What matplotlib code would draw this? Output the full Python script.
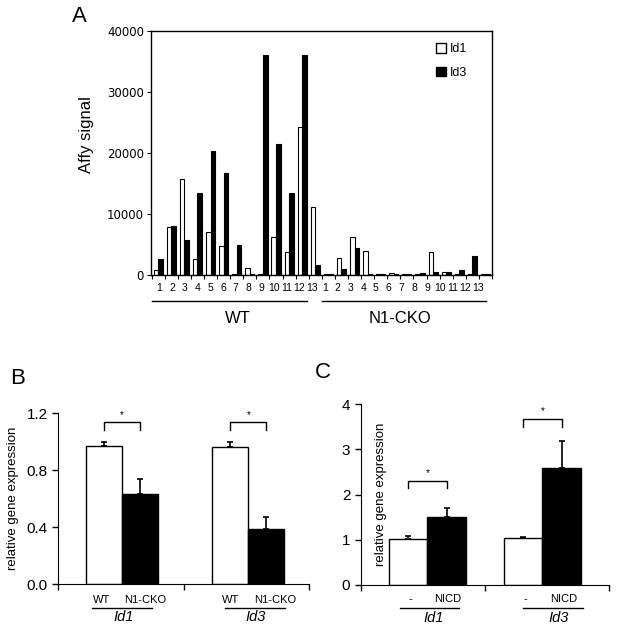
import numpy as np
import matplotlib
matplotlib.use('Agg')
import matplotlib.pyplot as plt
from matplotlib.patches import Patch
import matplotlib.transforms as mtransforms

plt.rcParams['font.family'] = ['Liberation Sans', 'DejaVu Sans']

# Panel A: Affy signal, 13 WT and 13 N1-CKO samples
sample_labels = [str(i) for i in range(1, 14)] * 2
wt_id1 = [800, 7900, 15700, 2700, 7000, 4800, 200, 1150, 200, 6150, 3700, 24200, 11150]
wt_id3 = [2700, 8000, 5800, 13500, 20250, 16800, 4850, 150, 36000, 21500, 13400, 36000, 1700]
cko_id1 = [100, 2850, 6150, 4000, 150, 350, 150, 150, 3800, 500, 150, 150, 100]
cko_id3 = [200, 950, 4350, 100, 150, 100, 150, 350, 550, 500, 870, 3050, 100]

# Panel B: qPCR WT vs N1-CKO
genes = ['Id1', 'Id3']
b_wt = [0.97, 0.96]
b_wt_err = [0.03, 0.035]
b_cko = [0.63, 0.39]
b_cko_err = [0.11, 0.08]
b_bracket = [1.14, 1.14]

# Panel C: control vs NICD
c_ctrl = [1.02, 1.03]
c_ctrl_err = [0.07, 0.035]
c_nicd = [1.50, 2.58]
c_nicd_err = [0.21, 0.61]
c_bracket = [2.31, 3.675]

W, H = 617, 639
fig = plt.figure(figsize=(W / 100, H / 100), dpi=100)


def px_axes(x0, y0, x1, y1):
    return fig.add_axes([x0 / W, 1 - y1 / H, (x1 - x0) / W, (y1 - y0) / H])


# ---------- A ----------
ax = px_axes(151, 31, 492, 275)
id1 = np.array(wt_id1 + cko_id1)
id3 = np.array(wt_id3 + cko_id3)
x = np.arange(len(id1))
bw = 0.35
ax.bar(x - bw / 2, id1, bw, color='white', edgecolor='black', linewidth=0.8, label='Id1')
ax.bar(x + bw / 2, id3, bw, color='black', edgecolor='black', linewidth=0.8, label='Id3')
ax.set_xlim(-0.55, 25.5)
ax.set_ylim(0, 40000)
ax.set_yticks([0, 10000, 20000, 30000, 40000])
ax.set_yticklabels(['0', '10000', '20000', '30000', '40000'], family='DejaVu Sans', fontsize=8.5)
ax.tick_params(axis='y', direction='out', length=3, width=0.8, pad=2)
ax.set_xticks(0.076 + x * 0.974)
ax.set_xticklabels(sample_labels, fontsize=7.5)
ax.set_xticks(np.arange(-0.5, 26, 1), minor=True)
ax.tick_params(axis='x', which='major', length=0, pad=6)
ax.tick_params(axis='x', which='minor', direction='out', length=3, width=0.8)
for s in ax.spines.values():
    s.set_linewidth(1.0)
ax.set_ylabel('Affy signal', fontsize=12)
ax.yaxis.set_label_coords(-0.166, 0.574)
ax.legend(handles=[Patch(facecolor='white', edgecolor='black', label='Id1'),
                   Patch(facecolor='black', edgecolor='black', label='Id3')],
          loc='upper left', bbox_to_anchor=(0.835, 0.95), frameon=False,
          borderpad=0, borderaxespad=0, handlelength=0.8, handleheight=0.8,
          handletextpad=0.3, labelspacing=0.9, fontsize=9)
tr = mtransforms.blended_transform_factory(ax.transData, ax.transAxes)
ax.plot([-0.46, 11.37], [-0.107, -0.107], color='black', lw=1, transform=tr, clip_on=False)
ax.plot([12.52, 25.04], [-0.107, -0.107], color='black', lw=1, transform=tr, clip_on=False)
ax.text(6.1, -0.18, 'WT', transform=tr, ha='center', va='center', fontsize=12)
ax.text(18.47, -0.18, 'N1-CKO', transform=tr, ha='center', va='center', fontsize=12)


def qpcr_panel(ax, centers, bw, ctrl, ctrl_err, trt, trt_err, bracket, dy, star_dy):
    ax.bar(np.array(centers) - bw / 2, ctrl, bw, color='white', edgecolor='black', linewidth=1,
           yerr=[np.zeros(2), ctrl_err], error_kw=dict(ecolor='black', elinewidth=1.2, capsize=2, capthick=1.2))
    ax.bar(np.array(centers) + bw / 2, trt, bw, color='black', edgecolor='black', linewidth=1,
           yerr=[np.zeros(2), trt_err], error_kw=dict(ecolor='black', elinewidth=1.2, capsize=2, capthick=1.2))
    for c, b in zip(centers, bracket):
        x0, x1 = c - bw / 2, c + bw / 2
        ax.plot([x0, x0, x1, x1], [b - dy, b, b, b - dy], color='black', lw=1, clip_on=False)
        ax.text(c, b + star_dy, '*', ha='center', va='center', fontsize=7)
    ax.set_xlim(0, 2)
    ax.set_xticks([0, 1, 2])
    ax.set_xticklabels([])
    ax.spines['top'].set_visible(False)
    ax.spines['right'].set_visible(False)
    ax.tick_params(direction='out', length=4, width=1, labelsize=11)


# ---------- B ----------
axb = px_axes(58.3, 413.3, 309.3, 584)
b_centers = [0.508, 1.514]
qpcr_panel(axb, b_centers, 0.287, b_wt, b_wt_err, b_cko, b_cko_err, b_bracket, 0.06, 0.05)
axb.set_ylim(0, 1.2)
axb.set_yticks([0, 0.4, 0.8, 1.2])
axb.set_yticklabels(['0.0', '0.4', '0.8', '1.2'])
axb.set_ylabel('relative gene expression', fontsize=9.5)
axb.yaxis.set_label_coords(-0.157, 0.5)
trb = mtransforms.blended_transform_factory(axb.transData, axb.transAxes)
for wt_x, ko_x, l0, l1, gx, g in [(0.346, 0.691, 0.271, 0.744, 0.524, genes[0]),
                                   (1.376, 1.727, 1.328, 1.806, 1.574, genes[1])]:
    axb.text(wt_x, -0.094, 'WT', transform=trb, ha='center', va='center', fontsize=8)
    axb.text(ko_x, -0.094, 'N1-CKO', transform=trb, ha='center', va='center', fontsize=8)
    axb.plot([l0, l1], [-0.142, -0.142], color='black', lw=1, transform=trb, clip_on=False)
    axb.text(gx, -0.195, g, transform=trb, ha='center', va='center', fontsize=10.5, style='italic')

# ---------- C ----------
axc = px_axes(360.7, 404.3, 609.3, 585)
c_centers = [0.536, 1.461]
qpcr_panel(axc, c_centers, 0.31, c_ctrl, c_ctrl_err, c_nicd, c_nicd_err, c_bracket, 0.17, 0.17)
axc.set_ylim(0, 4)
axc.set_yticks([0, 1, 2, 3, 4])
axc.set_ylabel('relative gene expression', fontsize=9.5)
axc.yaxis.set_label_coords(0.106, 0.5)
trc = mtransforms.blended_transform_factory(axc.transData, axc.transAxes)
for m_x, n_x, l0, l1, gx, g in [(0.397, 0.703, 0.316, 0.794, 0.59, genes[0]),
                                 (1.322, 1.63, 1.303, 1.786, 1.59, genes[1])]:
    axc.text(m_x, -0.08, '-', transform=trc, ha='center', va='center', fontsize=8)
    axc.text(n_x, -0.08, 'NICD', transform=trc, ha='center', va='center', fontsize=8)
    axc.plot([l0, l1], [-0.129, -0.129], color='black', lw=1, transform=trc, clip_on=False)
    axc.text(gx, -0.183, g, transform=trc, ha='center', va='center', fontsize=10.5, style='italic')

# panel letters
fig.text(79 / W, 1 - 16 / H, 'A', fontsize=16, ha='center', va='center')
fig.text(18 / W, 1 - 378 / H, 'B', fontsize=16, ha='center', va='center')
fig.text(323 / W, 1 - 372 / H, 'C', fontsize=16, ha='center', va='center')

fig.savefig('out.png', dpi=100)
